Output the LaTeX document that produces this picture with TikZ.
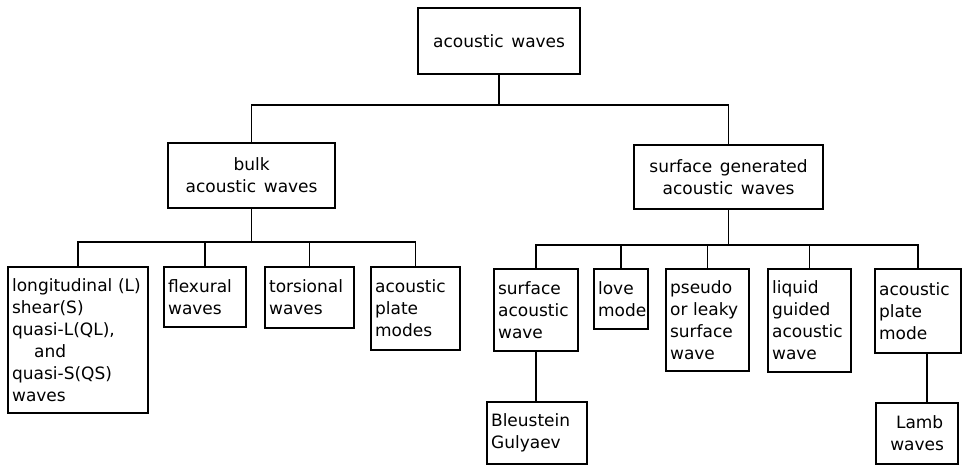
\documentclass[tikz,border=0pt]{standalone}
\usepackage{fontspec}
\setmainfont{DejaVu Sans}
\newcommand\wsp{\hspace{0.45em}}
\begin{document}
\begin{tikzpicture}[x=1pt,y=-1pt,
  box/.style={draw=black, line width=2.2pt, anchor=north west, inner xsep=4pt, inner ysep=2pt,
    font=\fontsize{17}{22}\selectfont, align=left},
  cbox/.style={box, align=center},
  sz/.style 2 args={text width=#1-8pt, minimum height=#2},
  conn/.style={line width=1.3pt, black}]
\useasboundingbox (0,0) rectangle (962,467);
% top levels
\node[cbox, sz={162}{66}] (root) at (417,7) {acoustic\wsp waves};
\node[cbox, sz={167}{65}] (bulk) at (167,142) {bulk\\acoustic\wsp waves};
\node[cbox, sz={189}{64}] (surf) at (633,144) {surface\wsp generated\\acoustic\wsp waves};
% bulk children
\node[box, sz={140}{146}] (lon) at (7,266) {longitudinal (L)\\shear(S)\\quasi-L(QL),\\\hspace*{1.3em}and\\quasi-S(QS)\\waves};
\node[box, sz={82}{60}] (flex) at (163,266) {flexural\\waves};
\node[box, sz={89}{61}] (tors) at (264,266) {torsional\\waves};
\node[box, sz={89}{83}] (apms) at (370,266) {acoustic\\plate\\modes};
% surface children
\node[box, sz={84}{82}] (saw) at (493,268) {surface\\acoustic\\wave};
\node[box, sz={54}{60}] (love) at (593,268) {love\\mode};
\node[box, sz={83}{102}] (pseudo) at (665,268) {pseudo\\or leaky\\surface\\wave};
\node[box, sz={83}{103}] (liq) at (767,268) {liquid\\guided\\acoustic\\wave};
\node[box, sz={86}{84}] (apm) at (874,268) {acoustic\\plate\\mode};
% third level
\node[box, sz={100}{62}] (bg) at (486,401) {Bleustein\\Gulyaev};
\node[cbox, sz={82}{61}] (lamb) at (875,402) {\hspace*{0.3em}Lamb\\waves};
% bus coordinates
\coordinate (b0) at (0,105);
\coordinate (b1) at (0,242);
\coordinate (b2) at (0,245);
% connectors
\draw[conn] (root.south) -- (root.south |- b0);
\draw[conn] (bulk.north) |- (root.south |- b0) -| (surf.north);
\draw[conn] (bulk.south) -- (bulk.south |- b1);
\draw[conn] (lon.north) |- (bulk.south |- b1) -| (apms.north);
\draw[conn] (flex.north) -- (flex.north |- b1);
\draw[conn] (tors.north) -- (tors.north |- b1);
\draw[conn] (surf.south) -- (surf.south |- b2);
\draw[conn] (saw.north) |- (surf.south |- b2) -| (apm.north);
\draw[conn] (love.north) -- (love.north |- b2);
\draw[conn] (pseudo.north) -- (pseudo.north |- b2);
\draw[conn] (liq.north) -- (liq.north |- b2);
\draw[conn] (saw.south) -- (bg.north -| saw.south);
\draw[conn] ([xshift=9pt]apm.south) -- ([xshift=9pt]apm.south |- lamb.north);
\end{tikzpicture}
\end{document}
